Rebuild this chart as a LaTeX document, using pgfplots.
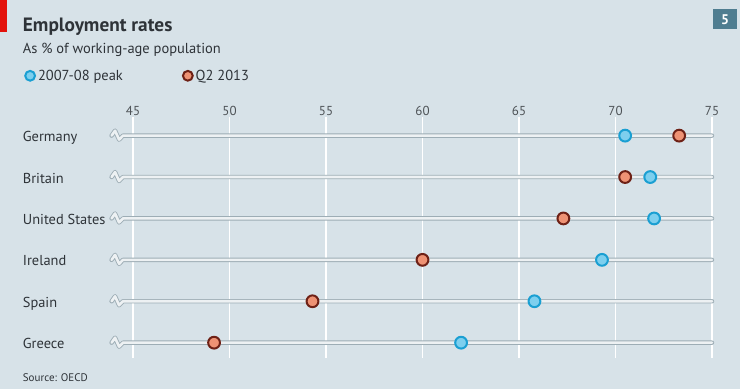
\documentclass[border=0pt]{standalone}
\usepackage{pgfplots}
\pgfplotsset{compat=1.18}
\usepackage{pgfplotstable}
\usepackage{fontspec}
\setmainfont{PT Sans}
\definecolor{bg}{HTML}{D7E2E8}
\definecolor{railedge}{HTML}{9DADB5}
\definecolor{railfill}{HTML}{EDF1F3}
\definecolor{bluefill}{HTML}{7DCFEE}
\definecolor{blueline}{HTML}{1A9FD2}
\definecolor{redfill}{HTML}{EE9274}
\definecolor{redline}{HTML}{6E2116}
\definecolor{txt}{HTML}{2E3338}
\definecolor{boxc}{HTML}{4F7D90}
\definecolor{econred}{HTML}{E3120B}

\pgfplotstableread{
x y
70.5 5
71.8 4
72.0 3
69.3 2
65.8 1
62.0 0
}\peak
\pgfplotstableread{
x y
73.3 5
70.5 4
67.3 3
60.0 2
54.3 1
49.2 0
}\qtwo

\begin{document}
\begin{tikzpicture}[x=1pt,y=1pt]
\fill[bg] (0,0) rectangle (740,389);
\fill[econred] (0,357.3) rectangle (7.3,389);
\fill[boxc] (713.3,359.7) rectangle (736.7,379.7);
\node[text=white,font=\bfseries\fontsize{14}{14}\selectfont] at (725,369.7) {5};
\node[anchor=base west, inner sep=0, text=txt, font=\bfseries\fontsize{19.3}{19.3}\selectfont] at (22.7,357.3) {Employment rates};
\node[anchor=base west, inner sep=0, text=txt, font=\fontsize{14.5}{14.5}\selectfont] at (22.7,335.7) {As \% of working-age population};
\node[anchor=base west, inner sep=0, text=txt, font=\fontsize{11}{11}\selectfont] at (22.7,7.3) {Source: OECD};
\begin{axis}[
  at={(133pt,31pt)}, anchor=south west,
  scale only axis, width=579pt, height=241pt,
  xmin=45, xmax=75, ymin=-0.37, ymax=5.45,
  axis line style={draw=none},
  tick style={draw=none},
  major tick length=0pt,
  xtick={45,50,...,75},
  xticklabel pos=right,
  xmajorgrids,
  major grid style={white, line width=1.5pt},
  ytick={0,...,5},
  yticklabels={Greece,Spain,Ireland,United States,Britain,Germany},
  yticklabel style={anchor=base west, xshift=-110.3pt, yshift=-6pt, inner sep=0pt, text=txt, font=\fontsize{14.4}{14.4}\selectfont},
  xticklabel style={anchor=south, inner sep=0pt, yshift=1pt, text=txt!85, font=\fontsize{13}{13}\selectfont},
  /pgf/number format/assume math mode=true,
  clip=false,
  legend columns=2,
  legend style={at={(-0.1865,1.171)}, anchor=west, draw=none, fill=none, inner sep=0pt,
    font=\fontsize{14.5}{14.5}\selectfont, nodes={inner sep=0pt, text=txt},
    /tikz/every odd column/.append style={column sep=3pt},
    /tikz/every even column/.append style={column sep=60pt}},
  legend image code/.code={\draw[mark repeat=1,mark phase=1,#1] plot coordinates {(0pt,0pt)};},
  legend image post style={mark size=4.9pt},
]
\addplot[railedge, double=railfill, double distance=2.6pt, line width=0.9pt, line join=round, line cap=round, forget plot] coordinates {(43.89,5)(44.07,5.12)(44.28,4.903)(44.48,5)(75,5)};
\addplot[railedge, double=railfill, double distance=2.6pt, line width=0.9pt, line join=round, line cap=round, forget plot] coordinates {(43.89,4)(44.07,4.12)(44.28,3.903)(44.48,4)(75,4)};
\addplot[railedge, double=railfill, double distance=2.6pt, line width=0.9pt, line join=round, line cap=round, forget plot] coordinates {(43.89,3)(44.07,3.12)(44.28,2.903)(44.48,3)(75,3)};
\addplot[railedge, double=railfill, double distance=2.6pt, line width=0.9pt, line join=round, line cap=round, forget plot] coordinates {(43.89,2)(44.07,2.12)(44.28,1.903)(44.48,2)(75,2)};
\addplot[railedge, double=railfill, double distance=2.6pt, line width=0.9pt, line join=round, line cap=round, forget plot] coordinates {(43.89,1)(44.07,1.12)(44.28,0.903)(44.48,1)(75,1)};
\addplot[railedge, double=railfill, double distance=2.6pt, line width=0.9pt, line join=round, line cap=round, forget plot] coordinates {(43.89,0)(44.07,0.12)(44.28,-0.097)(44.48,0)(75,0)};
\addplot[only marks, mark=*, mark size=5.9pt, mark options={fill=bluefill, draw=blueline, line width=2pt}] table {\peak};
\addlegendentry{2007-08 peak}
\addplot[only marks, mark=*, mark size=5.9pt, mark options={fill=redfill, draw=redline, line width=2pt}] table {\qtwo};
\addlegendentry{Q2 2013}
\end{axis}
\end{tikzpicture}
\end{document}
